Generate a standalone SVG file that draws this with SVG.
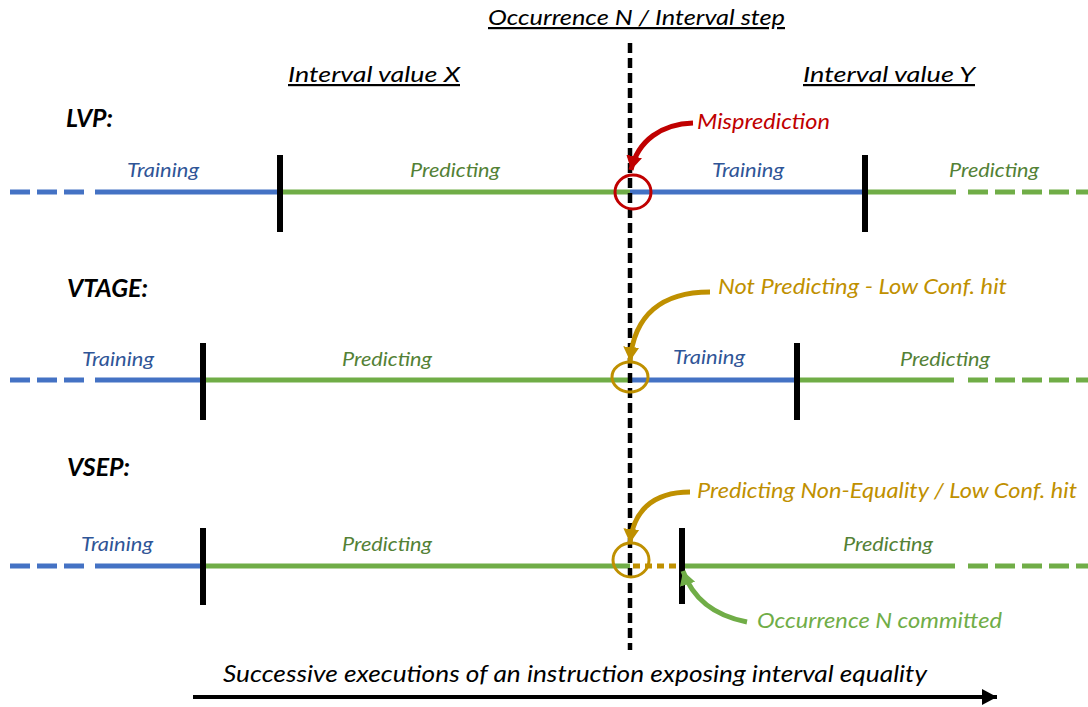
<svg xmlns="http://www.w3.org/2000/svg" width="1088" height="707" viewBox="0 0 1088 707">
<style>
text{font-family:Lato,"Liberation Sans",sans-serif;font-style:italic}
.title{font-size:22px;fill:#000;text-decoration:underline}
.row{font-size:24px;font-weight:bold;fill:#000}
.tr{font-size:19px;fill:#2F5597}
.pr{font-size:19px;fill:#538135}
.blue{stroke:#4472C4;stroke-width:5;fill:none}
.green{stroke:#70AD47;stroke-width:5;fill:none}
.dash{stroke-dasharray:20 7}
.tick{stroke:#000;stroke-width:6}
.note{font-size:21px}
</style>
<defs>
<marker id="ahR" markerUnits="userSpaceOnUse" markerWidth="18" markerHeight="18" refX="14" refY="9" orient="auto"><path d="M0,1 L14,9 L0,17 Z" fill="#C00000"/></marker>
<marker id="ahO" markerUnits="userSpaceOnUse" markerWidth="18" markerHeight="18" refX="14" refY="9" orient="auto"><path d="M0,1 L14,9 L0,17 Z" fill="#BF9000"/></marker>
<marker id="ahG" markerUnits="userSpaceOnUse" markerWidth="18" markerHeight="18" refX="14" refY="9" orient="auto"><path d="M0,1 L14,9 L0,17 Z" fill="#70AD47"/></marker>
<marker id="ahK" markerUnits="userSpaceOnUse" markerWidth="20" markerHeight="20" refX="15" refY="10" orient="auto"><path d="M0,2 L15,10 L0,18 Z" fill="#000"/></marker>
</defs>

<g id="titles">
<text class="title" x="488" y="25" textLength="297" lengthAdjust="spacingAndGlyphs">Occurrence N / Interval step</text>
<text class="title" x="288" y="82" textLength="172" lengthAdjust="spacingAndGlyphs">Interval value X</text>
<text class="title" x="803" y="82" textLength="172" lengthAdjust="spacingAndGlyphs">Interval value Y</text>
</g>

<g id="lvp">
<text class="row" x="66" y="127" textLength="47" lengthAdjust="spacingAndGlyphs">LVP:</text>
<line class="blue dash" x1="10" y1="192" x2="88" y2="192"/>
<line class="blue" x1="95" y1="192" x2="280" y2="192"/>
<line class="green" x1="280" y1="192" x2="630" y2="192"/>
<line class="blue" x1="630" y1="192" x2="865" y2="192"/>
<line class="green" x1="865" y1="192" x2="956" y2="192"/>
<line class="green dash" x1="968" y1="192" x2="1088" y2="192"/>
<line class="tick" x1="280" y1="155" x2="280" y2="232"/>
<line class="tick" x1="865" y1="155" x2="865" y2="232"/>
<text class="tr" x="127" y="177" textLength="72" lengthAdjust="spacingAndGlyphs">Training</text>
<text class="pr" x="410" y="177" textLength="90" lengthAdjust="spacingAndGlyphs">Predicting</text>
<text class="tr" x="712" y="177" textLength="72" lengthAdjust="spacingAndGlyphs">Training</text>
<text class="pr" x="949" y="177" textLength="90" lengthAdjust="spacingAndGlyphs">Predicting</text>
</g>

<g id="vtage">
<text class="row" x="67" y="297" textLength="81" lengthAdjust="spacingAndGlyphs">VTAGE:</text>
<line class="blue dash" x1="10" y1="380" x2="88" y2="380"/>
<line class="blue" x1="95" y1="380" x2="203" y2="380"/>
<line class="green" x1="203" y1="380" x2="630" y2="380"/>
<line class="blue" x1="630" y1="380" x2="797" y2="380"/>
<line class="green" x1="797" y1="380" x2="954" y2="380"/>
<line class="green dash" x1="968" y1="380" x2="1088" y2="380"/>
<line class="tick" x1="203" y1="343" x2="203" y2="420"/>
<line class="tick" x1="797" y1="343" x2="797" y2="420"/>
<text class="tr" x="82" y="366" textLength="72" lengthAdjust="spacingAndGlyphs">Training</text>
<text class="pr" x="342" y="366" textLength="90" lengthAdjust="spacingAndGlyphs">Predicting</text>
<text class="tr" x="673" y="364" textLength="72" lengthAdjust="spacingAndGlyphs">Training</text>
<text class="pr" x="900" y="366" textLength="90" lengthAdjust="spacingAndGlyphs">Predicting</text>
</g>

<g id="vsep">
<text class="row" x="67" y="476" textLength="63" lengthAdjust="spacingAndGlyphs">VSEP:</text>
<line class="blue dash" x1="10" y1="566" x2="88" y2="566"/>
<line class="blue" x1="95" y1="566" x2="203" y2="566"/>
<line class="green" x1="203" y1="566" x2="630" y2="566"/>
<line stroke="#BF9000" stroke-width="5" stroke-dasharray="7 5" x1="633" y1="566" x2="680" y2="566"/>
<line class="green" x1="682" y1="566" x2="955" y2="566"/>
<line class="green dash" x1="968" y1="566" x2="1088" y2="566"/>
<line class="tick" x1="203" y1="528" x2="203" y2="605"/>
<line class="tick" x1="682" y1="528" x2="682" y2="604"/>
<text class="tr" x="81" y="551" textLength="72" lengthAdjust="spacingAndGlyphs">Training</text>
<text class="pr" x="342" y="551" textLength="90" lengthAdjust="spacingAndGlyphs">Predicting</text>
<text class="pr" x="843" y="551" textLength="90" lengthAdjust="spacingAndGlyphs">Predicting</text>
</g>

<g id="step-line">
<line x1="630" y1="43" x2="630" y2="650" stroke="#000" stroke-width="4.5" stroke-dasharray="10 5"/>
</g>

<g id="markers">
<ellipse cx="633" cy="192" rx="18" ry="17" fill="none" stroke="#C00000" stroke-width="3"/>
<ellipse cx="630" cy="377" rx="18" ry="15" fill="none" stroke="#BF9000" stroke-width="3"/>
<ellipse cx="631" cy="560" rx="18" ry="17" fill="none" stroke="#BF9000" stroke-width="3"/>
</g>

<g id="connectors">
<path d="M693,123 C662,124 638,140 631,170" fill="none" stroke="#C00000" stroke-width="5" marker-end="url(#ahR)"/>
<path d="M710,292 C662,292 634,315 630,361" fill="none" stroke="#BF9000" stroke-width="5" marker-end="url(#ahO)"/>
<path d="M690,492 C652,492 633,512 630,543" fill="none" stroke="#BF9000" stroke-width="5" marker-end="url(#ahO)"/>
<path d="M747,622 C716,616 693,600 683,571" fill="none" stroke="#70AD47" stroke-width="5" marker-end="url(#ahG)"/>
<path d="M193,697 L997,697" fill="none" stroke="#000" stroke-width="4" marker-end="url(#ahK)"/>
</g>

<g id="notes">
<text class="note" x="697" y="129" fill="#C00000" textLength="133" lengthAdjust="spacingAndGlyphs">Misprediction</text>
<text class="note" x="718" y="294" fill="#BF9000" textLength="289" lengthAdjust="spacingAndGlyphs">Not Predicting - Low Conf. hit</text>
<text class="note" x="697" y="498" fill="#BF9000" textLength="380" lengthAdjust="spacingAndGlyphs">Predicting Non-Equality / Low Conf. hit</text>
<text class="note" x="757" y="628" fill="#70AD47" textLength="245" lengthAdjust="spacingAndGlyphs">Occurrence N committed</text>
<text x="223" y="682" font-size="23" fill="#000" textLength="704" lengthAdjust="spacingAndGlyphs">Successive executions of an instruction exposing interval equality</text>
</g>
</svg>
